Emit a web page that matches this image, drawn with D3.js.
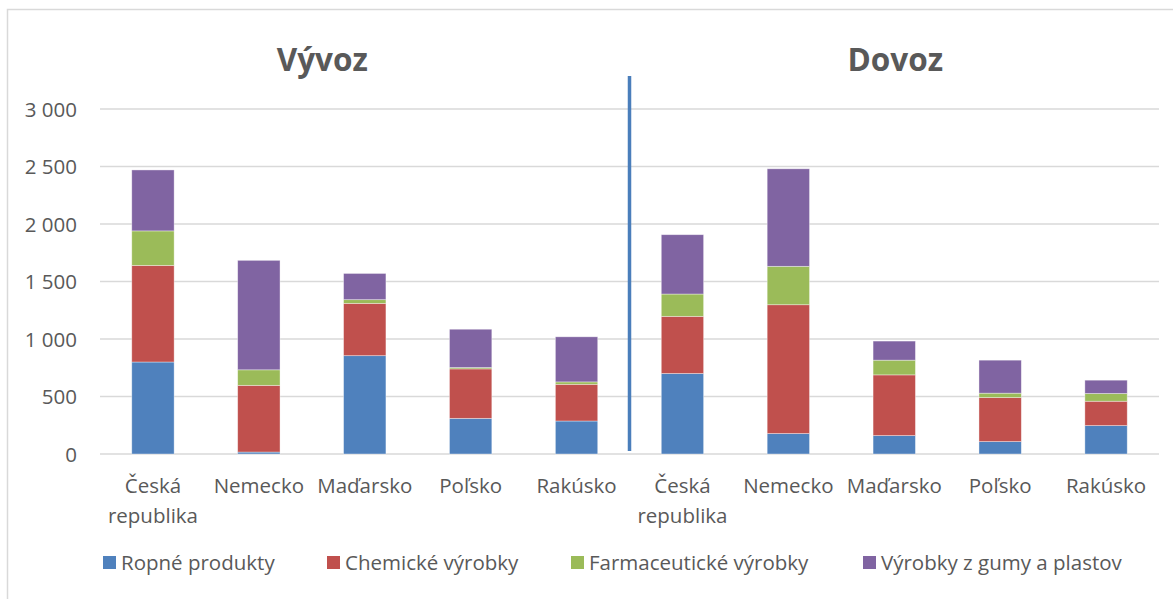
<!DOCTYPE html>
<html>
<head>
<meta charset="utf-8">
<script src="https://cdn.jsdelivr.net/npm/d3@7"></script>
<style>
  body { margin: 0; background: #fff; }
  text { font-family: "Open Sans", sans-serif; fill: #595959; }
</style>
</head>
<body>
<div id="chart"></div>
<script>
// kategórie (krajiny) pre obe časti grafu
const countries = ['Česká republika', 'Nemecko', 'Maďarsko', 'Poľsko', 'Rakúsko'];
const groups = ['Vývoz', 'Dovoz'];
const seriesNames = ['Ropné produkty', 'Chemické výrobky', 'Farmaceutické výrobky', 'Výrobky z gumy a plastov'];
const seriesColors = ['#4F81BD', '#C0504D', '#9BBB59', '#8064A2'];

// hodnoty - vývoz
const exportRopne = [800, 17, 855, 310, 287];
const exportChem = [840, 580, 455, 430, 319];
const exportFarma = [300, 135, 32, 12, 21];
const exportGuma = [530, 952, 228, 333, 392];

// hodnoty - dovoz
const importRopne = [700, 178, 160, 108, 247];
const importChem = [497, 1120, 528, 383, 212];
const importFarma = [194, 334, 128, 38, 67];
const importGuma = [516, 848, 166, 287, 116];

const yTicks = [0, 500, 1000, 1500, 2000, 2500, 3000];

const width = 1173;
const height = 599;
const margin = { left: 100, right: 14, top: 109, bottom: 145 };

// skladám riadky tabuľky pre d3.stack
const rows = [];
countries.forEach((c, i) => rows.push({ key: 'V' + i, label: c, s0: exportRopne[i], s1: exportChem[i], s2: exportFarma[i], s3: exportGuma[i] }));
countries.forEach((c, i) => rows.push({ key: 'D' + i, label: c, s0: importRopne[i], s1: importChem[i], s2: importFarma[i], s3: importGuma[i] }));

const svg = d3.select('#chart')
  .append('svg')
  .attr('width', width)
  .attr('height', height);

// rámik grafu
svg.append('rect')
  .attr('x', 7.5).attr('y', 9.5)
  .attr('width', width + 10).attr('height', height + 10)
  .attr('fill', 'none')
  .attr('stroke', '#d9d9d9')
  .attr('stroke-width', 1.5);

const x = d3.scaleBand()
  .domain(rows.map(d => d.key))
  .range([margin.left, width - margin.right])
  .paddingInner(0.6)
  .paddingOuter(0.3);

const y = d3.scaleLinear()
  .domain([0, 3000])
  .range([height - margin.bottom, margin.top]);

const fmt = v => d3.format(',')(v).replace(/,/g, '\u00a0');

// mriežka
svg.append('g')
  .selectAll('line')
  .data(yTicks)
  .enter()
  .append('line')
  .attr('x1', margin.left)
  .attr('x2', width - margin.right)
  .attr('y1', d => y(d))
  .attr('y2', d => y(d))
  .attr('stroke', '#d9d9d9')
  .attr('stroke-width', 1.5);

// os y
const yAxis = svg.append('g')
  .attr('transform', `translate(${margin.left - 23}, 0)`)
  .call(d3.axisLeft(y).tickValues(yTicks).tickFormat(d => d === 0 ? '0' : fmt(d)).tickSize(0).tickPadding(0));
yAxis.select('.domain').remove();
yAxis.selectAll('text')
  .attr('font-size', 20.5)
  .attr('dy', '0.36em')
  .style('font-family', '"Open Sans", sans-serif')
  .attr('fill', '#595959');

// stĺpce
const stack = d3.stack().keys(['s0', 's1', 's2', 's3']);
const layers = stack(rows);

svg.append('g')
  .selectAll('g')
  .data(layers)
  .enter()
  .append('g')
  .attr('fill', (d, i) => seriesColors[i])
  .selectAll('rect')
  .data(d => d)
  .enter()
  .append('rect')
  .attr('x', d => x(d.data.key))
  .attr('width', x.bandwidth())
  .attr('y', d => y(d[1]))
  .attr('height', d => y(d[0]) - y(d[1]))
  .attr('stroke', '#ffffff')
  .attr('stroke-opacity', 0.5)
  .attr('stroke-width', 0.75);

// popisky kategórií
svg.append('g')
  .selectAll('text')
  .data(rows)
  .enter()
  .append('text')
  .attr('text-anchor', 'middle')
  .attr('font-size', 20.5)
  .attr('transform', d => `translate(${x(d.key) + x.bandwidth() / 2}, 493)`)
  .each(function(d) {
    const parts = d.label.split(' ');
    d3.select(this).selectAll('tspan')
      .data(parts)
      .enter()
      .append('tspan')
      .attr('x', 0)
      .attr('dy', (p, i) => i === 0 ? 0 : 30)
      .text(p => p);
  });

// oddeľovacia čiara medzi vývozom a dovozom
const sepX = (x('V4') + x.bandwidth() + x('D0')) / 2;
svg.append('line')
  .attr('x1', sepX).attr('x2', sepX)
  .attr('y1', 76).attr('y2', 451)
  .attr('stroke', '#4A7EBB')
  .attr('stroke-width', 3.5);

// nadpisy skupín
groups.forEach((g, gi) => {
  const first = x((gi === 0 ? 'V' : 'D') + 0);
  const last = x((gi === 0 ? 'V' : 'D') + 4) + x.bandwidth();
  svg.append('text')
    .attr('x', (first + last) / 2 + (gi === 0 ? -42.5 : 1))
    .attr('y', 71)
    .attr('text-anchor', 'middle')
    .attr('font-size', 31.5)
    .attr('font-weight', 'bold')
    .text(g);
});

// legenda
const legendX = [103, 327, 571, 863];
const legend = svg.append('g').attr('class', 'legend');
seriesNames.forEach((name, i) => {
  const lg = legend.append('g')
    .attr('transform', `translate(${legendX[i]}, 563)`);
  lg.append('rect')
    .attr('x', 0).attr('y', -7)
    .attr('width', 13).attr('height', 13)
    .attr('fill', seriesColors[i]);
  lg.append('text')
    .attr('x', 18)
    .attr('y', 0)
    .attr('dy', '0.36em')
    .attr('font-size', 20.5)
    .text(name);
});
</script>
</body>
</html>
